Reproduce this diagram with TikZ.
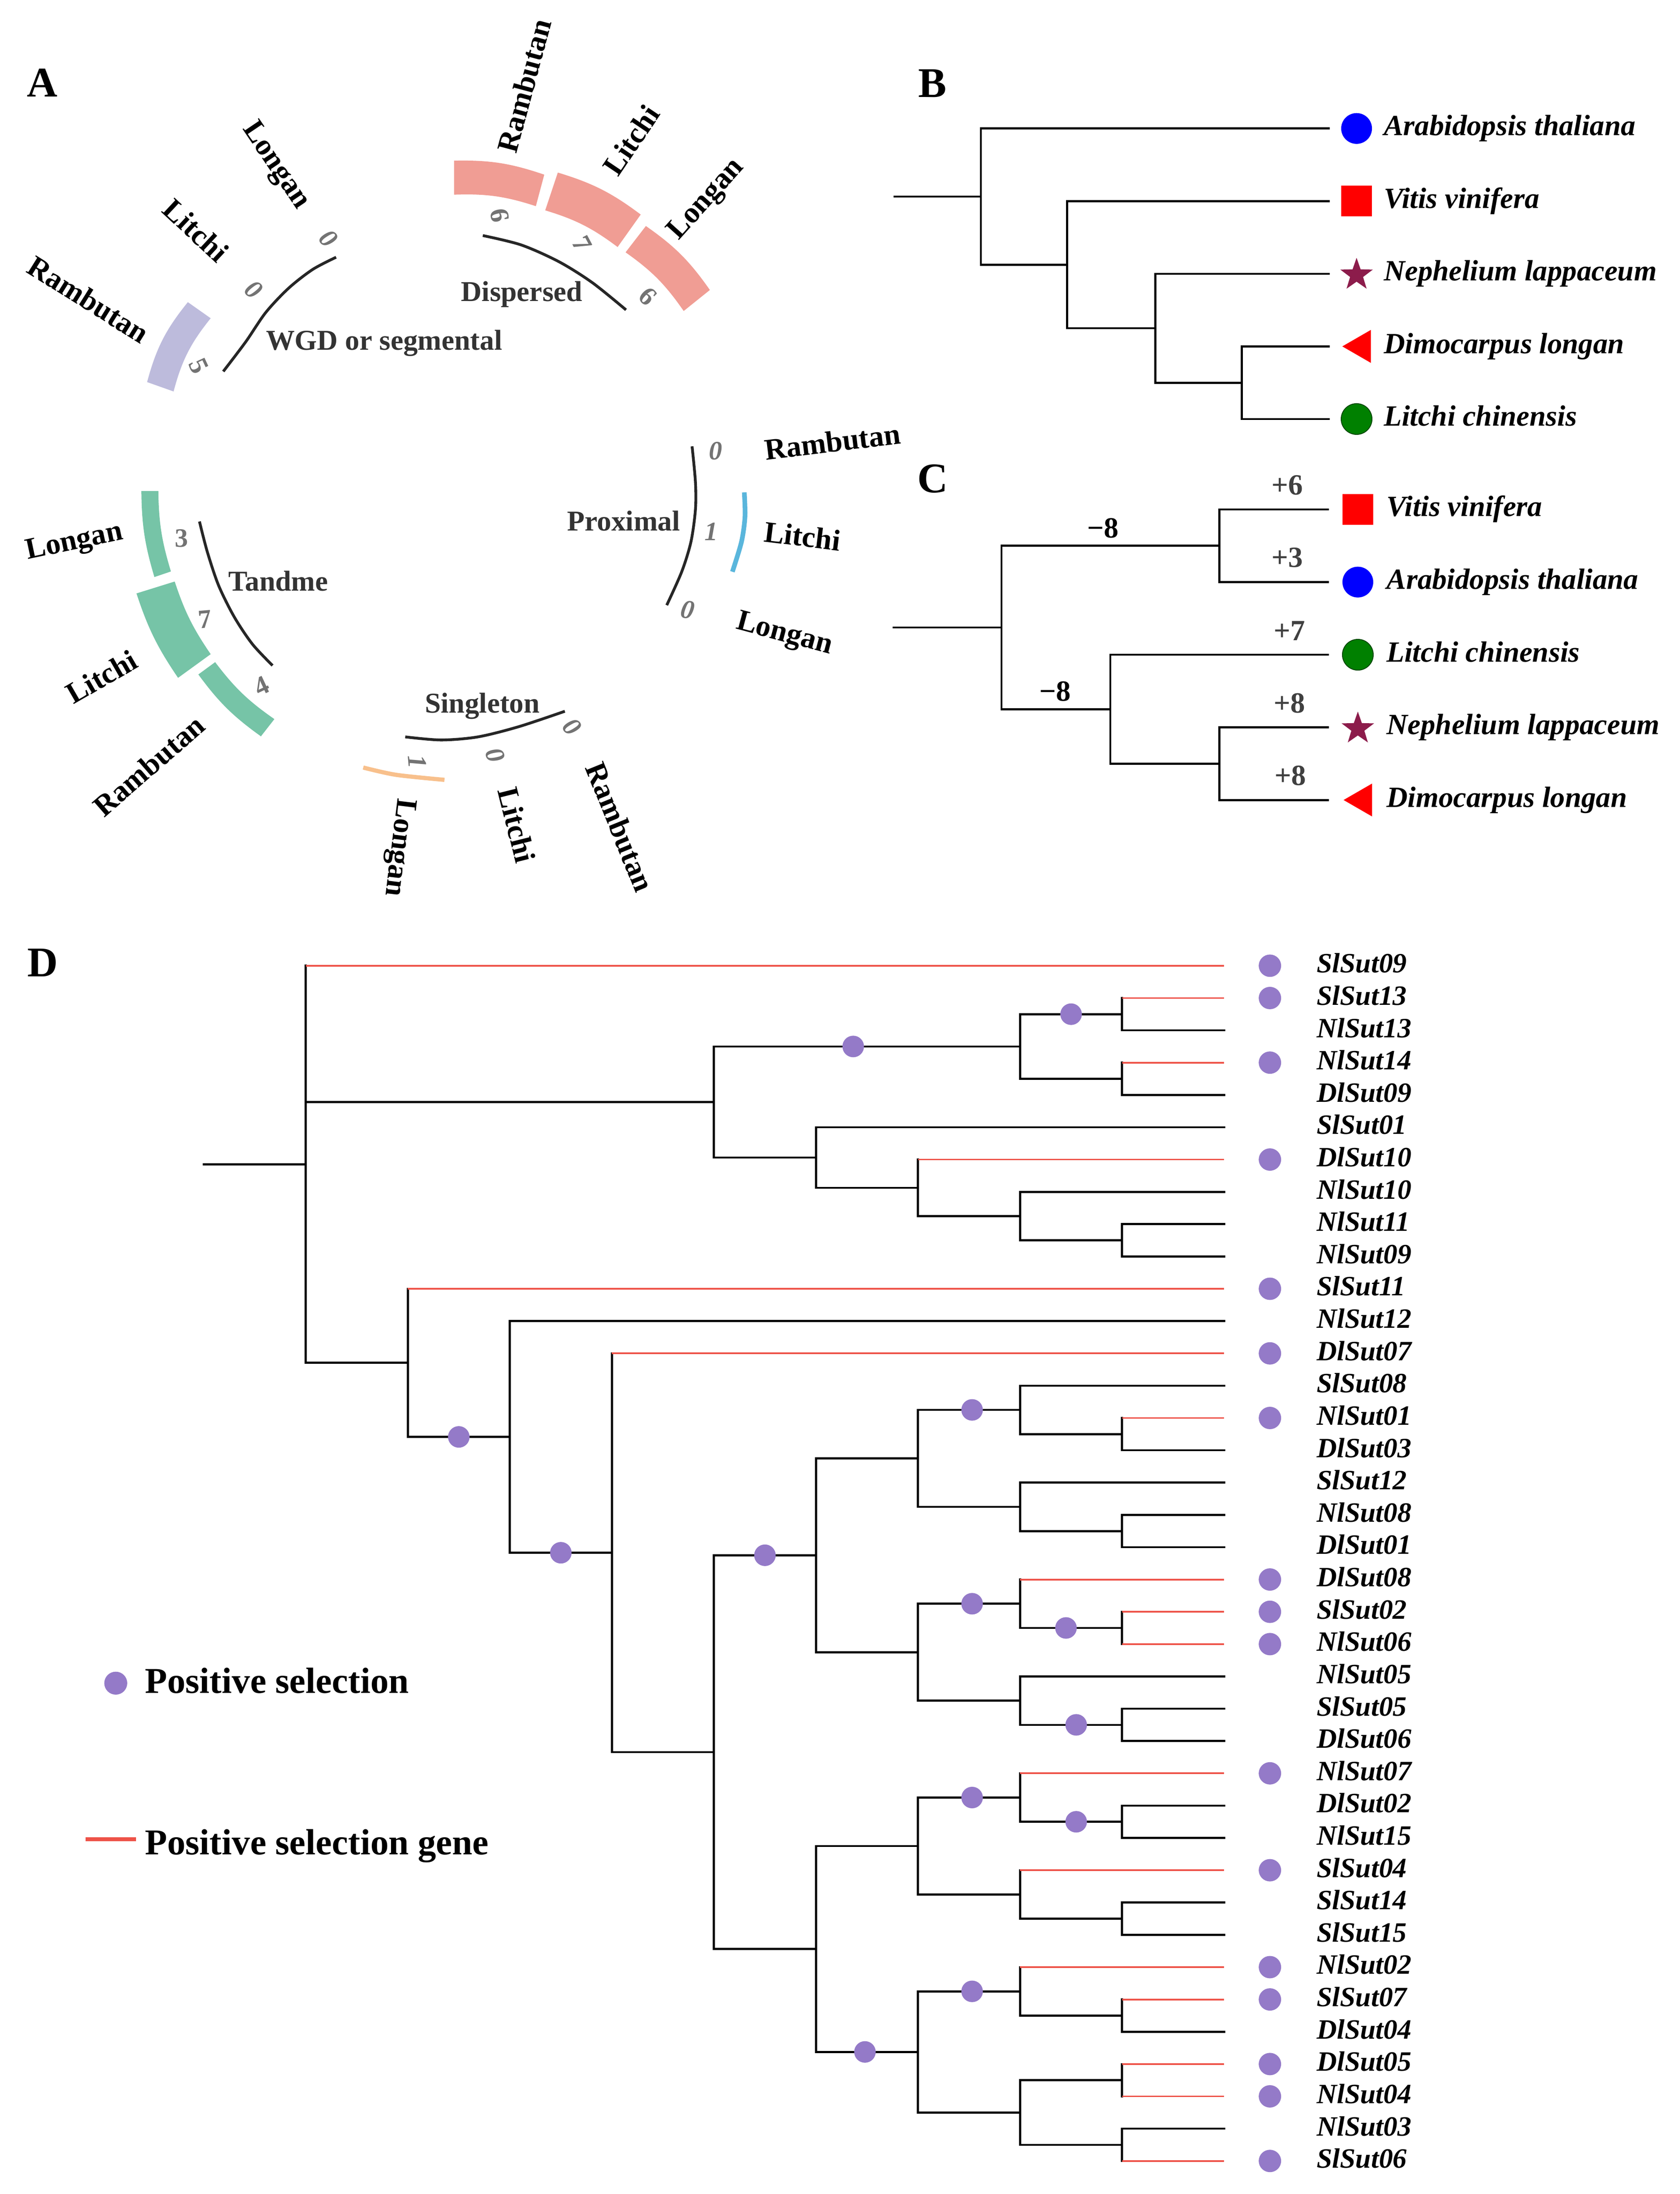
\documentclass[tikz,border=0pt]{standalone}
\usepackage{fontspec}
\setmainfont{Liberation Serif}
\usetikzlibrary{calc,positioning,shapes.geometric}

\definecolor{wgdc}{RGB}{189,187,220}
\definecolor{disc}{RGB}{240,157,148}
\definecolor{tanc}{RGB}{118,196,167}
\definecolor{proc}{RGB}{90,182,220}
\definecolor{sinc}{RGB}{248,192,140}
\definecolor{selred}{RGB}{238,82,72}
\definecolor{selpurple}{RGB}{148,122,200}
\definecolor{starc}{RGB}{140,28,75}
\definecolor{leafgreen}{RGB}{0,128,0}

\begin{document}
\begin{tikzpicture}[
    % GLOBAL CFG
    x=0.25mm, y=-0.25mm,
    % Styles
    panel/.style={% For the panel letters
        font=\fontsize{21.5}{24}\selectfont\bfseries,
        inner sep=0,
        },
    spname/.style={% Species names round the circles
        font=\fontsize{15.2}{17}\selectfont\bfseries,
        inner sep=0,
        },
    catname/.style={% Duplication types
        font=\fontsize{14.6}{16}\selectfont\bfseries,
        text=black!80,
        inner sep=0,
        },
    numlab/.style={% Gene counts
        font=\fontsize{13.5}{15}\selectfont\bfseries,
        text=black!55,
        inner sep=0,
        },
    inumlab/.style={numlab, font=\fontsize{13.5}{15}\selectfont\bfseries\itshape},
    catarc/.style={line width=0.5mm, black!85},
    treeline/.style={line width=0.37mm},
    species/.style={% tip names of B and C
        font=\fontsize{14.9}{17}\selectfont\bfseries\itshape,
        anchor=base west,
        inner sep=0,
        yshift=-1.25mm,
        },
    symb/.style={inner sep=0, minimum size=5.5mm},
    bluedot/.style={symb, circle, fill=blue},
    greendot/.style={symb, circle, fill=leafgreen, draw=leafgreen!55!black, line width=0.15mm},
    redsq/.style={symb, rectangle, fill=red},
    redtri/.style={inner sep=0, regular polygon, regular polygon sides=3,
        shape border rotate=90, minimum size=6.8mm, fill=red},
    purplestar/.style={inner sep=0, star, star points=5, star point ratio=2.5,
        minimum size=6.1mm, fill=starc},
    tipnum/.style={font=\fontsize{14.9}{17}\selectfont\bfseries, text=black!75,
        inner sep=0, above=2.4mm},
    brnum/.style={font=\fontsize{14.9}{17}\selectfont\bfseries,
        inner sep=0, above=1.2mm},
    branch/.style={line width=0.37mm, line cap=rect},
    selbranch/.style={line width=0.3mm, selred},
    seldot/.style={circle, fill=selpurple, inner sep=0, minimum size=3.85mm},
    tiplabel/.style={% gene names of D
        font=\fontsize{14.2}{16}\selectfont\bfseries\itshape,
        anchor=base west,
        inner sep=0,
        yshift=-1.25mm,
        },
    legtext/.style={font=\fontsize{18.5}{21}\selectfont\bfseries, anchor=base west, inner sep=0},
    ]

\useasboundingbox (0,0) rectangle (1200,1567.6);

%Panel letters
\node[panel] (pA) at (30.1,59.3) {A};
\node[panel] (pB) at (666.2,59.5) {B};
\node[panel] (pC) at (666.2,342.0) {C};
\node[panel] (pD) at (30.5,688) {D};

%%%%%%%%%% A %%%%%%%%%%
    % WGD or segmental
    \fill[wgdc] (105.1,273.0) to[bend left=12] (134.2,215.9) -- (150.5,227.4) to[bend right=12] (124.0,279.7) -- cycle;
    \draw[catarc] plot[smooth] coordinates {(159.5,265.4) (175.5,244.3) (189.9,223.2) (206.2,205.9) (223.4,192.5) (240.1,183.8)};
    \node[spname, rotate=-32] (a1ram) at (63.2,213.9) {Rambutan};
    \node[spname, rotate=-43] (a1lit) at (140,164.6) {Litchi};
    \node[spname, rotate=-56] (a1lon) at (196.6,118.6) {Longan};
    \node[numlab, rotate=-65] (a1n1) at (141.9,261.5) {5};
    \node[inumlab, rotate=-42] (a1n2) at (181.2,206.9) {0};
    \node[inumlab, rotate=-48] (a1n3) at (234.5,170.4) {0};
    \node[catname] (a1cat) at (274.5,245.2) {WGD or segmental};

    % Dispersed
    \fill[disc] (324.4,114.8) to[bend left=10] (388.8,124.8) -- (382.8,147.3) to[bend right=10] (324.4,139.1) -- cycle;
    \fill[disc] (398.5,123.3) to[bend left=10] (457.7,153.3) -- (441.2,176.5) to[bend right=10] (389.5,150.3) -- cycle;
    \fill[disc] (461.4,161.5) to[bend left=10] (507.1,207.2) -- (488.4,222.2) to[bend right=10] (446.9,180.3) -- cycle;
    \draw[catarc] plot[smooth] coordinates {(344.9,168.3) (372.3,175.0) (399.3,187.0) (423.2,202.0) (447.2,221.4)};
    \node[spname, rotate=75] (a2ram) at (374.5,61.2) {Rambutan};
    \node[spname, rotate=56] (a2lit) at (450.9,100.1) {Litchi};
    \node[spname, rotate=48] (a2lon) at (504.9,142.8) {Longan};
    \node[numlab, rotate=-80] (a2n1) at (357,154) {6};
    \node[numlab, rotate=-62] (a2n2) at (415.7,174.3) {7};
    \node[numlab, rotate=-45] (a2n3) at (462.9,211.7) {6};
    \node[catname] (a2cat) at (372.7,210.2) {Dispersed};

    % Tandme
    \fill[tanc] (110.3,412.3) to[bend left=8] (101.0,350.9) -- (113.1,350.9) to[bend right=8] (122.1,408.3) -- cycle;
    \fill[tanc] (127.2,484.3) to[bend left=8] (97.5,424.0) -- (124.8,415.5) to[bend right=8] (150.5,467.4) -- cycle;
    \fill[tanc] (186.4,526.1) to[bend left=9] (141.7,481.9) -- (153.7,473.1) to[bend right=9] (196.0,513.8) -- cycle;
    \draw[catarc] plot[smooth] coordinates {(142.5,372.6) (148.1,394.3) (156.2,418.4) (167.4,440.9) (180.3,460.2) (194.7,475.5)};
    \node[spname, rotate=12] (a3lon) at (53.3,387.9) {Longan};
    \node[spname, rotate=30] (a3lit) at (72.5,483.5) {Litchi};
    \node[spname, rotate=41] (a3ram) at (106.3,547.0) {Rambutan};
    \node[numlab] (a3n1) at (129.6,384.7) {3};
    \node[numlab, rotate=5] (a3n2) at (146.5,442.5) {7};
    \node[numlab, rotate=25] (a3n3) at (186.7,490.0) {4};
    \node[catname] (a3cat) at (198.8,415.2) {Tandme};

    % Proximal
    \draw[proc, line width=0.83mm] plot[smooth] coordinates {(531.7,351.8) (532.2,369.1) (529.7,387.1) (523.2,408.5)};
    \draw[catarc] plot[smooth] coordinates {(494.4,318.9) (496.8,344.4) (496.8,364.1) (493.6,387.1) (487.0,408.5) (476.3,432.4)};
    \node[spname, rotate=7] (a4ram) at (594.7,315.6) {Rambutan};
    \node[spname, rotate=-7] (a4lit) at (573.3,383.0) {Litchi};
    \node[spname, rotate=-15] (a4lon) at (560.2,453.7) {Longan};
    \node[inumlab] (a4n1) at (511.3,322.2) {0};
    \node[inumlab] (a4n2) at (508.0,379.7) {1};
    \node[inumlab, rotate=-10] (a4n3) at (491.1,435.6) {0};
    \node[catname] (a4cat) at (445.5,372.3) {Proximal};

    % Singleton
    \draw[sinc, line width=0.75mm] plot[smooth] coordinates {(259.5,548.4) (282.9,553.6) (317.5,557.2)};
    \draw[catarc] plot[smooth] coordinates {(289.5,526.5) (315.0,528.7) (341.4,526.5) (370.6,519.2) (403.5,508.2)};
    \node[spname, rotate=-97] (a5lon) at (284.4,605.4) {Longan};
    \node[spname, rotate=-76] (a5lit) at (369.1,589.4) {Litchi};
    \node[spname, rotate=-68] (a5ram) at (442.9,590.8) {Rambutan};
    \node[inumlab, rotate=-85] (a5n1) at (298.2,544.1) {1};
    \node[inumlab, rotate=-70] (a5n2) at (353.8,539.7) {0};
    \node[inumlab, rotate=-50] (a5n3) at (408.6,519.2) {0};
    \node[catname] (a5cat) at (344.6,504.6) {Singleton};

%%%%%%%%%% B %%%%%%%%%%
    \coordinate (b0) at (638.3,140.45);
    \coordinate (broot) at (700.7,140.45);
    \coordinate (bn1) at (762.3,189.1);
    \coordinate (bn2) at (825.3,234.5);
    \coordinate (bn3) at (887.2,273.45);
    \foreach \n/\y in {ara/91.8, vit/143.7, nep/195.6, dim/247.5, lit/299.4}
        \coordinate (b\n) at (950.1,\y);
    \draw[treeline] (b0) -- (broot);
    \foreach \p/\c in {broot/bara, broot/bn1, bn1/bvit, bn1/bn2, bn2/bnep, bn2/bn3, bn3/bdim, bn3/blit}
        \draw[treeline] (\p) |- (\c);
    \node[bluedot] (bsara) at (969.1,91.8) {};
    \node[redsq] (bsvit) at (969.1,143.7) {};
    \node[purplestar] (bsnep) at (969.1,196.4) {};
    \node[redtri] (bsdim) at (972.5,247.5) {};
    \node[greendot] (bslit) at (969.1,299.4) {};
    \node[species] (blara) at (988.3,91.8) {Arabidopsis thaliana};
    \node[species] (blvit) at (988.3,143.7) {Vitis vinifera};
    \node[species] (blnep) at (988.3,195.6) {Nephelium lappaceum};
    \node[species] (bldim) at (988.3,247.5) {Dimocarpus longan};
    \node[species] (bllit) at (988.3,299.4) {Litchi chinensis};

%%%%%%%%%% C %%%%%%%%%%
    \coordinate (c0) at (637.7,448.3);
    \coordinate (croot) at (715.4,448.3);
    \coordinate (cn1) at (871.1,389.95);
    \coordinate (cn2) at (793.2,506.7);
    \coordinate (cn3) at (871.1,545.65);
    \foreach \n/\y in {vit/364.0, ara/415.9, lit/467.8, nep/519.7, dim/571.6}
        \coordinate (c\n) at (949.3,\y);
    \draw[treeline] (c0) -- (croot);
    \draw[treeline] (croot) |- node[brnum, pos=.733] (cm1) {−8} (cn1);
    \draw[treeline] (croot) |- node[brnum, pos=.746] (cm2) {−8} (cn2);
    \draw[treeline] (cn1) |- node[tipnum, pos=.81] (cpvit) {+6} (cvit);
    \draw[treeline] (cn1) |- node[tipnum, pos=.81] (cpara) {+3} (cara);
    \draw[treeline] (cn2) |- node[tipnum, pos=.91] (cplit) {+7} (clit);
    \draw[treeline] (cn2) |- (cn3);
    \draw[treeline] (cn3) |- node[tipnum, pos=.82] (cpnep) {+8} (cnep);
    \draw[treeline] (cn3) |- node[tipnum, pos=.825] (cpdim) {+8} (cdim);
    \node[redsq] (csvit) at (970,364.0) {};
    \node[bluedot] (csara) at (970,415.9) {};
    \node[greendot] (cslit) at (970,467.8) {};
    \node[purplestar] (csnep) at (970,520.6) {};
    \node[redtri] (csdim) at (973.4,571.6) {};
    \node[species] (clvit) at (990.3,364.0) {Vitis vinifera};
    \node[species] (clara) at (990.3,415.9) {Arabidopsis thaliana};
    \node[species] (cllit) at (990.3,467.8) {Litchi chinensis};
    \node[species] (clnep) at (990.3,519.7) {Nephelium lappaceum};
    \node[species] (cldim) at (990.3,571.6) {Dimocarpus longan};

%%%%%%%%%% D %%%%%%%%%%
\begin{scope}[shift={(0,666.92)}, y={(0,-5.77mm)}]
    % tips and gene names
    \foreach [count=\i] \g in {SlSut09,SlSut13,NlSut13,NlSut14,DlSut09,SlSut01,DlSut10,NlSut10,NlSut11,NlSut09,
        SlSut11,NlSut12,DlSut07,SlSut08,NlSut01,DlSut03,SlSut12,NlSut08,DlSut01,DlSut08,
        SlSut02,NlSut06,NlSut05,SlSut05,DlSut06,NlSut07,DlSut02,NlSut15,SlSut04,SlSut14,
        SlSut15,NlSut02,SlSut07,DlSut04,DlSut05,NlSut04,NlSut03,SlSut06}{
        \coordinate (t\i) at (874.5,\i);
        \node[tiplabel] (g\i) at (940.4,\i) {\g};
    }
    % inner nodes
    \coordinate (rs) at (145.5,7.1465);
    \coordinate (root) at (218.4,7.1465);
    \coordinate (A) at (510.0,5.21875);
    \coordinate (A1) at (728.7,3.5);
    \coordinate (A11) at (801.6,2.5);
    \coordinate (A12) at (801.6,4.5);
    \coordinate (A2) at (582.9,6.9375);
    \coordinate (A21) at (655.8,7.875);
    \coordinate (A211) at (728.7,8.75);
    \coordinate (A2111) at (801.6,9.5);
    \coordinate (B) at (291.3,13.293);
    \coordinate (B1) at (364.2,15.586);
    \coordinate (B2) at (437.1,19.172);
    \coordinate (B3) at (510.0,25.344);
    \coordinate (C) at (582.9,19.25);
    \coordinate (C1) at (655.8,16.25);
    \coordinate (C11) at (728.7,14.75);
    \coordinate (C111) at (801.6,15.5);
    \coordinate (C12) at (728.7,17.75);
    \coordinate (C121) at (801.6,18.5);
    \coordinate (C2) at (655.8,22.25);
    \coordinate (C21) at (728.7,20.75);
    \coordinate (C211) at (801.6,21.5);
    \coordinate (C22) at (728.7,23.75);
    \coordinate (C221) at (801.6,24.5);
    \coordinate (E) at (582.9,31.4375);
    \coordinate (E1) at (655.8,28.25);
    \coordinate (E11) at (728.7,26.75);
    \coordinate (E111) at (801.6,27.5);
    \coordinate (E12) at (728.7,29.75);
    \coordinate (E121) at (801.6,30.5);
    \coordinate (E2) at (655.8,34.625);
    \coordinate (E21) at (728.7,32.75);
    \coordinate (E211) at (801.6,33.5);
    \coordinate (E22) at (728.7,36.5);
    \coordinate (E221) at (801.6,35.5);
    \coordinate (E222) at (801.6,37.5);

    \draw[branch] (rs) -- (root);
    % black branches
    \foreach \p/\c in {root/A, root/B, A/A1, A/A2, A1/A11, A1/A12, A11/t3, A12/t5,
        A2/t6, A2/A21, A21/A211, A211/t8, A211/A2111, A2111/t9, A2111/t10,
        B/B1, B1/t12, B1/B2, B2/B3, B3/C, B3/E, C/C1, C/C2, C1/C11, C1/C12,
        C11/t14, C11/C111, C111/t16, C12/t17, C12/C121, C121/t18, C121/t19,
        C2/C21, C2/C22, C21/C211, C22/t23, C22/C221, C221/t24, C221/t25,
        E/E1, E/E2, E1/E11, E1/E12, E11/E111, E111/t27, E111/t28, E12/E121,
        E121/t30, E121/t31, E2/E21, E2/E22, E21/E211, E211/t34, E22/E221, E22/E222, E222/t37}
        \draw[branch] (\p) |- (\c);
    % positive selection genes
    \foreach \p/\c in {root/t1, A11/t2, A12/t4, A21/t7, B/t11, B2/t13, C111/t15, C21/t20,
        C211/t21, C211/t22, E11/t26, E12/t29, E21/t32, E211/t33, E221/t35, E221/t36, E222/t38}{
        \draw[branch] (\p) -- (\p |- \c);
        \draw[selbranch] (\p |- \c) -- (\c);
    }
    % positive selection on branches
    \foreach \p/\c/\f in {A/A1/.455, A1/A11/.5, B/B1/.5, B1/B2/.5, B3/C/.5, C1/C11/.53,
        C2/C21/.53, C21/C211/.45, C22/C221/.55, E1/E11/.53, E11/E111/.55, E/E2/.48, E2/E21/.53}
        \node[seldot] (d\c) at ($(\p |- \c)!\f!(\c)$) {};
    \foreach \i in {1,2,4,7,11,13,15,20,21,22,26,29,32,33,35,36,38}
        \node[seldot, minimum size=4mm] (ld\i) at (907.2,\i) {};
\end{scope}

    % legend
    \node[seldot, minimum size=4.1mm] (lgdot) at (82.7,1202.6) {};
    \node[legtext] (lgdott) at (103.3,1209.6) {Positive selection};
    \coordinate (lga) at (61.2,1314.1);
    \coordinate (lgb) at (97.2,1314.1);
    \draw[selred, line width=0.65mm] (lga) -- (lgb);
    \node[legtext] (lglinet) at (103.3,1325) {Positive selection gene};
\end{tikzpicture}
\end{document}
